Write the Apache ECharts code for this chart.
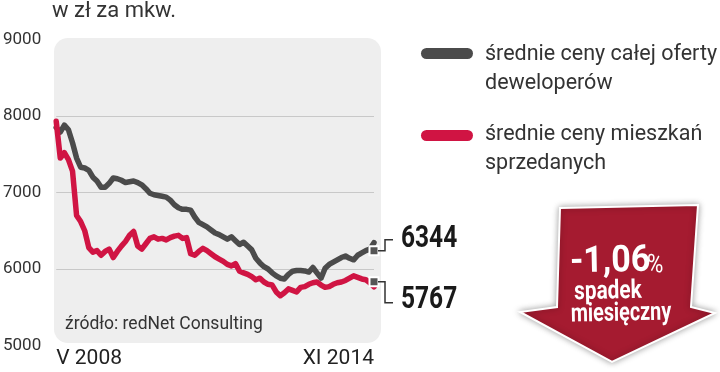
<!DOCTYPE html>
<html><head><meta charset="utf-8">
<script src="https://cdn.jsdelivr.net/npm/echarts@6/dist/echarts.min.js"></script>
<style>html,body{margin:0;padding:0;background:#fff}#c{width:720px;height:372px}</style>
</head><body><div id="c"></div>
<script>
// średnie ceny całej oferty deweloperów (zł/m2), V 2008 – XI 2014
const offerPrices = [7850,7790,7880,7820,7650,7450,7330,7320,7290,7200,
  7150,7070,7070,7120,7190,7180,7160,7130,7140,7150,
  7130,7100,7050,6990,6970,6960,6950,6940,6900,6840,
  6800,6780,6780,6770,6680,6610,6580,6550,6510,6470,
  6450,6420,6390,6420,6370,6320,6350,6300,6250,6140,
  6080,6030,6000,5950,5910,5880,5870,5930,5970,5980,
  5980,5975,5960,6020,5950,5880,6010,6060,6090,6120,
  6150,6170,6140,6120,6180,6210,6240,6260,6344];
// średnie ceny mieszkań sprzedanych
const soldPrices = [7930,7450,7520,7430,7280,6700,6620,6500,6280,6220,
  6240,6180,6230,6260,6150,6230,6300,6360,6440,6490,
  6300,6260,6330,6400,6420,6390,6400,6380,6410,6430,
  6440,6400,6410,6200,6180,6230,6270,6240,6200,6160,
  6130,6100,6060,6040,6070,5970,5950,5930,5900,5860,
  5880,5830,5800,5790,5700,5650,5690,5740,5720,5700,
  5760,5770,5800,5820,5830,5790,5760,5770,5800,5820,
  5830,5850,5880,5910,5890,5870,5860,5820,5767];
const yTicks = [5000, 6000, 7000, 8000, 9000];
const romanMonths = ['I','II','III','IV','V','VI','VII','VIII','IX','X','XI','XII'];
const startYear = 2008, startMonthIdx = 4;
const categories = [];
for (let i = 0; i < offerPrices.length; i++) {
  const m = startMonthIdx + i;
  categories.push(romanMonths[m % 12] + ' ' + (startYear + Math.floor(m / 12)));
}
const endLabels = ['6344', '5767'];
const legendNames = [['średnie ceny całej oferty', 'deweloperów'], ['średnie ceny mieszkań', 'sprzedanych']];
const changeText = ['-1,06', '%', 'spadek', 'miesięczny'];

const GRAY = '#4b4b4b', RED = '#d01443', DARKRED = '#a51b30';
const FONT = 'Roboto, "Open Sans", sans-serif';

const chart = echarts.init(document.getElementById('c'), null, {renderer: 'canvas'});
const last = categories.length - 1;
const option = {
  animation: false,
  backgroundColor: '#fff',
  grid: {left: 53, right: 346, top: 39.5, bottom: 26.5},
  xAxis: {
    type: 'category', data: categories, boundaryGap: false,
    axisLine: {show: false}, axisTick: {show: false}, splitLine: {show: false},
    axisLabel: {
      interval: (i) => i === 0 || i === last,
      formatter: (v) => v,
      color: '#222', fontSize: 21, fontFamily: FONT, margin: 3,
      alignMinLabel: 'left', alignMaxLabel: 'right'
    }
  },
  yAxis: {
    type: 'value', min: yTicks[0], max: yTicks[yTicks.length - 1], interval: 1000,
    axisLine: {show: false}, axisTick: {show: false},
    axisLabel: {color: '#333', fontSize: 17, fontFamily: FONT, margin: 15, formatter: (v) => String(v)},
    splitLine: {show: true, lineStyle: {color: ['rgba(0,0,0,0)', '#c8c8c8', '#c8c8c8', '#c8c8c8', 'rgba(0,0,0,0)'], width: 1}}
  },
  series: [
    {
      name: legendNames[0].join(' '), type: 'line', data: offerPrices, symbol: 'none', z: 3,
      lineStyle: {color: GRAY, width: 5.5, cap: 'round', join: 'round'},
      markPoint: {
        symbol: 'rect', symbolSize: 9, label: {show: false}, silent: true,
        itemStyle: {color: '#555', borderColor: '#fff', borderWidth: 2},
        data: [{coord: [last, offerPrices[last]], symbolOffset: [0, 8]}]
      }
    },
    {
      name: legendNames[1].join(' '), type: 'line', data: soldPrices, symbol: 'none', z: 4,
      lineStyle: {color: RED, width: 5.5, cap: 'round', join: 'round'},
      markPoint: {
        symbol: 'rect', symbolSize: 9, label: {show: false}, silent: true,
        itemStyle: {color: '#555', borderColor: '#fff', borderWidth: 2},
        data: [{coord: [last, soldPrices[last]], symbolOffset: [0, -5]}]
      }
    }
  ]
};
chart.setOption(option);

const pG = chart.convertToPixel({seriesIndex: 0}, [last, offerPrices[last]]);
const pR = chart.convertToPixel({seriesIndex: 1}, [last, soldPrices[last]]);
const gY = pG[1] + 8, rY = pR[1] - 5;
const elbowX = pG[0] + 11;
const white = '#fff';

chart.setOption({
  graphic: [
    {type: 'rect', z: -10, shape: {x: 54, y: 38, width: 327, height: 305, r: 14}, style: {fill: '#eeeeee'}},
    {type: 'text', left: 52, top: 0, style: {text: 'w zł za mkw.', fontSize: 22, fontFamily: FONT, fill: '#333'}},
    {type: 'text', left: 65, top: 316, style: {text: 'źródło: redNet Consulting', fontSize: 17.5, fontFamily: FONT, fill: '#333'}},
    // legend
    {type: 'rect', shape: {x: 421, y: 48, width: 52, height: 11, r: 5.5}, style: {fill: GRAY}},
    {type: 'text', x: 485, y: 55, style: {text: legendNames[0][0], fontSize: 21.5, fontFamily: FONT, fill: '#333', verticalAlign: 'middle'}},
    {type: 'text', x: 485, y: 84, style: {text: legendNames[0][1], fontSize: 21.5, fontFamily: FONT, fill: '#333', verticalAlign: 'middle'}},
    {type: 'rect', shape: {x: 421, y: 130, width: 52, height: 11, r: 5.5}, style: {fill: RED}},
    {type: 'text', x: 485, y: 135, style: {text: legendNames[1][0], fontSize: 21.5, fontFamily: FONT, fill: '#333', verticalAlign: 'middle'}},
    {type: 'text', x: 485, y: 164, style: {text: legendNames[1][1], fontSize: 21.5, fontFamily: FONT, fill: '#333', verticalAlign: 'middle'}},
    // leader lines & end labels
    {type: 'polyline', z: 10, shape: {points: [[pG[0] + 4, gY], [elbowX, gY], [elbowX, gY - 11], [elbowX + 8, gY - 11]]}, style: {stroke: '#333', lineWidth: 1.5, fill: null}},
    {type: 'polyline', z: 10, shape: {points: [[pR[0] + 4, rY], [elbowX, rY], [elbowX, rY + 21], [elbowX + 8, rY + 21]]}, style: {stroke: '#333', lineWidth: 1.5, fill: null}},
    {type: 'text', x: 401, y: gY - 11, scaleX: 0.79, style: {text: endLabels[0], fontSize: 31, fontWeight: 'bold', fontFamily: FONT, fill: '#1a1a1a', verticalAlign: 'middle'}},
    {type: 'text', x: 401, y: rY + 18, scaleX: 0.79, style: {text: endLabels[1], fontSize: 31, fontWeight: 'bold', fontFamily: FONT, fill: '#1a1a1a', verticalAlign: 'middle'}},
    // arrow
    {type: 'polygon', z: 5,
      shape: {points: [[560, 208], [698, 205], [691, 307], [715, 313], [612, 362], [520, 312], [557, 307]]},
      style: {fill: DARKRED, stroke: '#fff', lineWidth: 2, shadowBlur: 6, shadowColor: 'rgba(0,0,0,0.35)'}},
    {type: 'text', z: 20, x: 570, y: 263, rotation: 0.02, scaleX: 0.92,
      style: {text: changeText[0], fontSize: 37, fontWeight: 'bold', fontFamily: FONT, fill: white, verticalAlign: 'middle'}},
    {type: 'text', z: 20, x: 647, y: 266, rotation: 0.02, scaleX: 0.85,
      style: {text: changeText[1], fontSize: 26, fontFamily: FONT, fill: white, verticalAlign: 'middle'}},
    {type: 'text', z: 20, x: 608, y: 292, rotation: 0.02, scaleX: 0.8,
      style: {text: changeText[2], fontSize: 26, fontWeight: 'bold', fontFamily: FONT, fill: white, align: 'center', verticalAlign: 'middle'}},
    {type: 'text', z: 20, x: 621, y: 314, rotation: 0.02, scaleX: 0.76,
      style: {text: changeText[3], fontSize: 26, fontWeight: 'bold', fontFamily: FONT, fill: white, align: 'center', verticalAlign: 'middle'}}
  ]
});
</script></body></html>
